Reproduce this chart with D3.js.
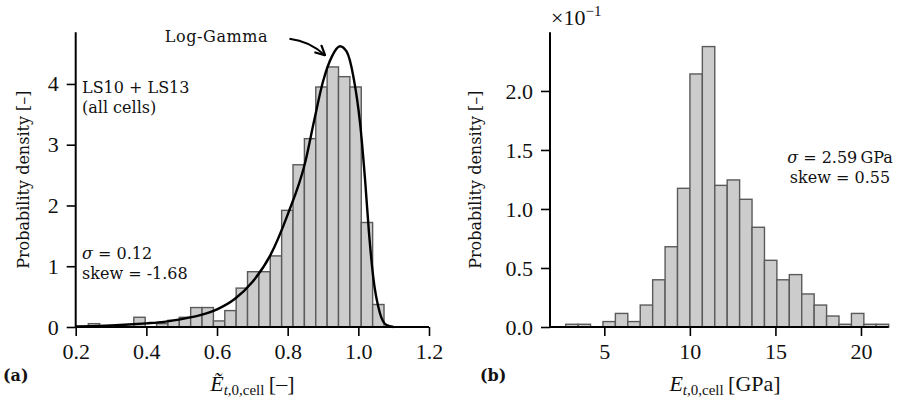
<!DOCTYPE html>
<html>
<head>
<meta charset="utf-8">
<script src="https://cdn.jsdelivr.net/npm/d3@7"></script>
<style>
  body { margin: 0; background: #fff; }
  svg { display: block; }
  .txt { font-family: "DejaVu Serif", serif; font-size: 16px; fill: #111; }
  .num { font-family: "Liberation Serif", serif; font-size: 22px; fill: #111; }
</style>
</head>
<body>
<div id="chart"></div>
<script>
// ---------------- data ----------------

// (a) normalised stiffness, density per bin
let leftBinStart = 0.2357;
let leftBinWidth = 0.03219;
let leftDensity = [0.055, 0, 0, 0, 0.16, 0, 0.055, 0.11, 0.16, 0.32, 0.32, 0.10, 0.27,
                   0.64, 0.91, 0.91, 1.17, 1.92, 2.67, 3.10, 3.95, 4.28, 4.12, 3.95, 1.72, 0.37];

// log-gamma fit
let fitX = [0.20, 0.25, 0.30, 0.35, 0.40, 0.45, 0.50, 0.55, 0.60, 0.65, 0.70, 0.75, 0.80,
            0.85, 0.875, 0.90, 0.925, 0.948, 0.967, 0.986, 1.005, 1.02, 1.03, 1.042, 1.061, 1.08, 1.10];
let fitY = [0.01, 0.015, 0.025, 0.04, 0.06, 0.085, 0.13, 0.19, 0.29, 0.46, 0.74, 1.17, 1.85,
            2.72, 3.40, 4.04, 4.45, 4.62, 4.53, 4.12, 3.35, 2.35, 1.56, 0.83, 0.23, 0.03, 0.0];

// (b) stiffness in GPa, density per bin (x 10^-1)
let rightBinStart = 2.744;
let rightBinWidth = 0.726;
let rightDensity = [0.023, 0.023, 0, 0.046, 0.115, 0.046, 0.186, 0.40, 0.68, 1.175, 2.144, 2.376, 1.20,
                    1.246, 1.082, 0.845, 0.565, 0.40, 0.444, 0.28, 0.186, 0.093, 0.023, 0.115, 0.023, 0.023];

let leftXTicks = [0.2, 0.4, 0.6, 0.8, 1.0, 1.2];
let leftYTicks = [0, 1, 2, 3, 4];
let rightXTicks = [5, 10, 15, 20];
let rightYTicks = [0, 0.5, 1.0, 1.5, 2.0];

// ---------------- setup ----------------
let width = 898, height = 408;
let barFill = "#cccccc", barStroke = "#5a5a5a";
let tickLen = 9;

const svg = d3.select("#chart").append("svg")
  .attr("width", width).attr("height", height)
  .attr("viewBox", [0, 0, width, height]);

svg.append("defs").append("marker")
  .attr("id", "arrow")
  .attr("viewBox", "0 0 12 12")
  .attr("refX", 11).attr("refY", 6)
  .attr("markerWidth", 12).attr("markerHeight", 12)
  .attr("markerUnits", "userSpaceOnUse")
  .attr("orient", "auto")
  .append("path")
  .attr("d", "M1,1 L11,6 L1,11")
  .attr("fill", "none").attr("stroke", "#000").attr("stroke-width", 2.2);

// bins -> rect data
let toBins = (start, w, dens) => dens.map((d, i) => ({ x0: start + i * w, x1: start + (i + 1) * w, y: d }));

let drawPanel = function(g, x, y, bins, xticks, yticks, fmtX, fmtY) {
  g.append("g")
    .selectAll("rect")
    .data(bins.filter(d => d.y > 0))
    .join("rect")
    .attr("x", d => x(d.x0))
    .attr("width", d => x(d.x1) - x(d.x0))
    .attr("y", d => y(d.y))
    .attr("height", d => y(0) - y(d.y))
    .attr("fill", barFill)
    .attr("stroke", barStroke)
    .attr("stroke-width", 1.4);

  const xAxis = g.append("g")
    .attr("transform", `translate(0,${y(0)})`)
    .call(d3.axisBottom(x).tickValues(xticks).tickSize(tickLen).tickPadding(7).tickFormat(fmtX));
  const yAxis = g.append("g")
    .attr("transform", `translate(${x.range()[0]},0)`)
    .call(d3.axisLeft(y).tickValues(yticks).tickSize(tickLen).tickPadding(8).tickFormat(fmtY));

  [xAxis, yAxis].forEach(a => {
    a.select(".domain").attr("stroke", "#000").attr("stroke-width", 2)
      .attr("d", a === xAxis ? `M${x.range()[0]},0H${x.range()[1]}` : `M0,${y.range()[0]}V${y.range()[1]}`);
    a.selectAll(".tick line").attr("stroke", "#000").attr("stroke-width", 1.6);
    a.selectAll(".tick text").attr("class", "num").attr("fill", "#111");
  });
};

// x label "E_{t,0,cell} [unit]", optional tilde accent on the E
let mathLabel = function(g, cx, unit, tilde) {
  const t = g.append("text").attr("class", "num")
    .attr("x", cx).attr("y", 391).attr("text-anchor", "middle");
  t.append("tspan").attr("font-style", "italic").text(tilde ? "E\u0303" : "E");
  t.append("tspan").attr("font-style", "italic").attr("font-size", 15).attr("dy", 4).text("t");
  t.append("tspan").attr("font-size", 15).text(",0,cell");
  t.append("tspan").attr("dy", -4).text("\u2009" + unit);
};

// ---------------- (a) ----------------
let xL = d3.scaleLinear().domain([0.2, 1.2]).range([75.7, 429]);
let yL = d3.scaleLinear().domain([0, 4.85]).range([327, 32.3]);
const gL = svg.append("g");
drawPanel(gL, xL, yL, toBins(leftBinStart, leftBinWidth, leftDensity), leftXTicks, leftYTicks,
  d3.format(".1f"), d3.format("d"));

let fit = fitX.map((d, i) => [d, fitY[i]]);
gL.append("path")
  .datum(fit)
  .attr("fill", "none")
  .attr("stroke", "#000")
  .attr("stroke-width", 2.4)
  .attr("d", d3.line().x(d => xL(d[0])).y(d => yL(d[1])).curve(d3.curveMonotoneX));

// annotation arrow
let aFrom = [xL(0.805), yL(4.745)], aTo = [xL(0.906), yL(4.47)];
let mx = (aFrom[0] + aTo[0]) / 2, my = (aFrom[1] + aTo[1]) / 2;
gL.append("path")
  .attr("d", `M${aFrom[0]},${aFrom[1]} Q${mx + 2.5},${my - 6} ${aTo[0]},${aTo[1]}`)
  .attr("fill", "none").attr("stroke", "#000").attr("stroke-width", 2)
  .attr("marker-end", "url(#arrow)");

gL.append("text").attr("class", "txt").attr("font-size", 17.5).attr("letter-spacing", 0.6)
  .attr("x", xL(0.452)).attr("y", 42).text("Log-Gamma");

gL.append("text").attr("class", "txt").attr("x", 82).attr("y", 93).text("LS10 + LS13");
gL.append("text").attr("class", "txt").attr("x", 82).attr("y", 113).text("(all cells)");

const sigL = gL.append("text").attr("class", "txt").attr("x", 82).attr("y", 259);
sigL.append("tspan").attr("font-style", "italic").text("σ");
sigL.append("tspan").text(" = 0.12");
gL.append("text").attr("class", "txt").attr("x", 82).attr("y", 279).text("skew = -1.68");

// y label
gL.append("text").attr("class", "txt").attr("font-size", 18)
  .attr("transform", `translate(29,${(yL.range()[0] + yL.range()[1]) / 2}) rotate(-90)`)
  .attr("text-anchor", "middle")
  .text("Probability density [–]");

mathLabel(gL, (xL.range()[0] + xL.range()[1]) / 2, "[–]", true);

gL.append("text").attr("class", "txt").attr("font-weight", "bold").attr("font-size", 17)
  .attr("x", 3).attr("y", 381).text("(a)");

// ---------------- (b) ----------------
let xR = d3.scaleLinear().domain([1.827, 21.62]).range([550, 888.7]);
let yR = d3.scaleLinear().domain([0, 2.497]).range([327, 32.3]);
const gR = svg.append("g");
drawPanel(gR, xR, yR, toBins(rightBinStart, rightBinWidth, rightDensity), rightXTicks, rightYTicks,
  d3.format("d"), d3.format(".1f"));

const sci = gR.append("text").attr("class", "num").attr("x", 551).attr("y", 25);
sci.append("tspan").text("×10");
sci.append("tspan").attr("font-size", 15).attr("dy", -9).text("−1");

const sigR = gR.append("text").attr("class", "txt").attr("x", 840).attr("y", 163).attr("text-anchor", "middle");
sigR.append("tspan").attr("font-style", "italic").text("σ");
sigR.append("tspan").text(" = 2.59\u2009GPa");
gR.append("text").attr("class", "txt").attr("x", 840).attr("y", 183).attr("text-anchor", "middle").text("skew = 0.55");

gR.append("text").attr("class", "txt").attr("font-size", 18)
  .attr("transform", `translate(481,${(yR.range()[0] + yR.range()[1]) / 2}) rotate(-90)`)
  .attr("text-anchor", "middle")
  .text("Probability density [–]");

mathLabel(gR, 725, "[GPa]", false);

gR.append("text").attr("class", "txt").attr("font-weight", "bold").attr("font-size", 17)
  .attr("x", 480).attr("y", 381).text("(b)");
</script>
</body>
</html>
